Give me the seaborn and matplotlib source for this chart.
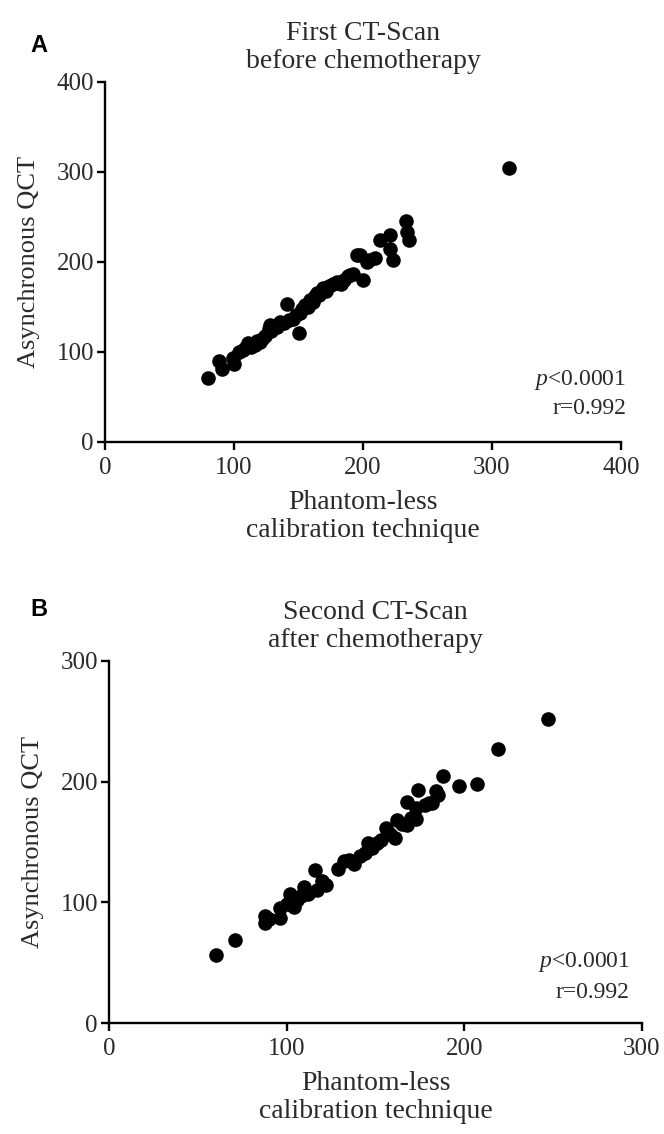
import numpy as np
import pandas as pd
import matplotlib
matplotlib.use("Agg")
import matplotlib.pyplot as plt
import seaborn as sns

# ---------------- data ----------------
a_x = [80, 88, 91, 99, 100, 104, 107, 109, 111, 113, 116, 118, 120, 122, 124, 127,
       128, 129, 133, 136, 139, 141, 143, 146, 148, 150, 151, 153, 155, 157, 159,
       161, 163, 164, 166, 169, 171, 174, 177, 180, 183, 185, 188, 190, 192, 195,
       198, 200, 203, 205, 209, 213, 221, 221, 223, 233, 234, 236, 313]
a_y = [71, 90, 81, 93, 87, 100, 102, 106, 110, 105, 108, 112, 111, 114, 118, 125,
       130, 123, 128, 133, 132, 153, 136, 137, 141, 121, 143, 148, 152, 150, 158,
       156, 162, 165, 163, 171, 168, 173, 175, 178, 176, 180, 184, 186, 187, 208,
       208, 180, 200, 202, 204, 224, 230, 214, 202, 245, 233, 224, 305]

b_x = [60, 71, 88, 88, 90, 96, 96, 100, 102, 104, 106, 108, 110, 112, 116, 117,
       120, 122, 129, 132, 135, 138, 141, 144, 146, 148, 151, 153, 156, 158, 161,
       162, 165, 168, 168, 170, 173, 173, 174, 178, 180, 182, 184, 185, 188, 197,
       207, 219, 247]
b_y = [56, 69, 89, 83, 86, 87, 95, 99, 107, 96, 102, 105, 113, 107, 127, 110,
       118, 114, 128, 134, 135, 132, 138, 141, 149, 145, 149, 152, 162, 157, 153,
       168, 165, 164, 183, 170, 178, 169, 193, 181, 182, 182, 192, 189, 205, 196,
       198, 227, 252]

panel_titles = ["First CT-Scan\nbefore chemotherapy", "Second CT-Scan\nafter chemotherapy"]
panel_letters = ["A", "B"]
x_label = "Phantom-less\ncalibration technique"
y_label = "Asynchronous QCT"
a_ticks = [0, 100, 200, 300, 400]
b_ticks = [0, 100, 200, 300]
stat_p = "<0.0001"
stat_r = "r=0.992"

# ---------------- style ----------------
sns.set_style("ticks")
plt.rcParams["font.family"] = ["Liberation Serif", "DejaVu Serif"]
plt.rcParams["mathtext.fontset"] = "custom"
plt.rcParams["mathtext.it"] = "Liberation Serif:italic"
plt.rcParams["axes.linewidth"] = 1.7
plt.rcParams["xtick.major.width"] = 1.7
plt.rcParams["ytick.major.width"] = 1.7
plt.rcParams["xtick.major.size"] = 6
plt.rcParams["ytick.major.size"] = 6

txt = "#2a2a2a"
fig = plt.figure(figsize=(6.64, 11.34), dpi=100)

axA = fig.add_axes([105/664, 1-442/1134, 516/664, 360/1134])
axB = fig.add_axes([109/664, 1-1023/1134, 533/664, 362/1134])

dfa = pd.DataFrame({"x": a_x, "y": a_y})
dfb = pd.DataFrame({"x": b_x, "y": b_y})

specs = [(axA, dfa, a_ticks, panel_titles[0], (1.01, 0.172, 0.094)),
         (axB, dfb, b_ticks, panel_titles[1], (0.977, 0.168, 0.083))]

for ax, df, ticks, title, (sx, py, ry) in specs:
    sns.scatterplot(data=df, x="x", y="y", ax=ax, color="black", s=110,
                    edgecolor="black", linewidth=0, legend=False, clip_on=False)
    ax.set_xlim(ticks[0], ticks[-1])
    ax.set_ylim(ticks[0], ticks[-1])
    ax.set_xticks(ticks)
    ax.set_yticks(ticks)
    ax.set_xticklabels([str(t) for t in ticks], fontsize=18, color=txt)
    ax.set_yticklabels([str(t) for t in ticks], fontsize=18, color=txt)
    ax.tick_params(axis="x", colors="black", labelcolor=txt, pad=5)
    ax.tick_params(axis="y", colors="black", labelcolor=txt, pad=2)
    sns.despine(ax=ax)
    for sp in ["left", "bottom"]:
        ax.spines[sp].set_color("black")
    ax.set_xlabel(x_label, fontsize=20, color=txt, labelpad=8, linespacing=1.15)
    ax.set_ylabel(y_label, fontsize=19, color=txt, labelpad=12)
    ax.set_title(title, fontsize=20, color=txt, pad=10, linespacing=1.15)
    ax.text(sx, ry, stat_r, transform=ax.transAxes, ha="right", va="center",
            fontsize=17, color=txt)
    ax.text(sx, py, r"$\mathit{p}$" + stat_p, transform=ax.transAxes, ha="right",
            va="center", fontsize=17, color=txt)

fig.text(30/664, 1-45/1134, "A", fontsize=17, fontweight="bold",
         family=["Liberation Sans", "DejaVu Sans"], ha="left", va="center", color="black")
fig.text(30/664, 1-610/1134, "B", fontsize=17, fontweight="bold",
         family=["Liberation Sans", "DejaVu Sans"], ha="left", va="center", color="black")

fig.savefig("out.png", dpi=100, facecolor="white")
